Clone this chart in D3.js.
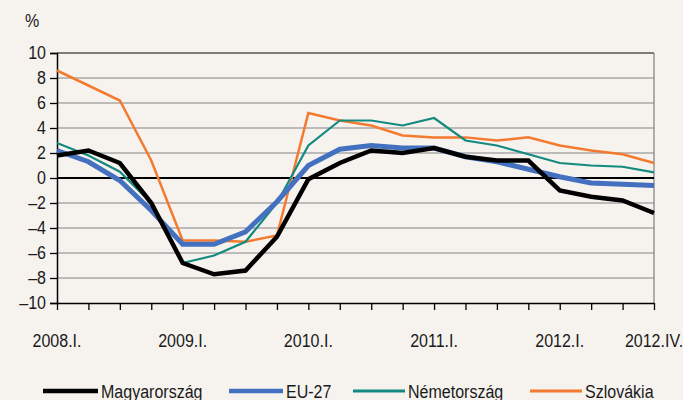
<!DOCTYPE html>
<html>
<head>
<meta charset="utf-8">
<script src="https://cdn.jsdelivr.net/npm/d3@7"></script>
<style>
  body { margin: 0; background: #f6f3ef; }
  svg text { font-family: "Liberation Sans", Arial, sans-serif; fill: #1a1a1a; }
</style>
</head>
<body>
<script>
var WIDTH = 683;
var HEIGHT = 400;
var NARROW = 0.89;   // squeeze text to look like a condensed face

var quarters = ["2008.I", "2008.II", "2008.III", "2008.IV",
                "2009.I", "2009.II", "2009.III", "2009.IV",
                "2010.I", "2010.II", "2010.III", "2010.IV",
                "2011.I", "2011.II", "2011.III", "2011.IV",
                "2012.I", "2012.II", "2012.III", "2012.IV"];
var tickQuarters = ["2008.I", "2009.I", "2010.I", "2011.I", "2012.I", "2012.IV"];
var tickLabels = ["2008.I.", "2009.I.", "2010.I.", "2011.I.", "2012.I.", "2012.IV."];
var yTicks = [-10, -8, -6, -4, -2, 0, 2, 4, 6, 8, 10];

var hungary  = [1.8, 2.2, 1.2, -2.0, -6.8, -7.7, -7.4, -4.7, -0.1, 1.2, 2.2, 2.0, 2.4, 1.7, 1.4, 1.4, -1.0, -1.5, -1.8, -2.8];
var eu27     = [2.2, 1.3, -0.2, -2.6, -5.3, -5.3, -4.3, -1.9, 1.0, 2.3, 2.6, 2.4, 2.4, 1.7, 1.3, 0.7, 0.1, -0.4, -0.5, -0.6];
var germany  = [2.8, 1.8, 0.5, -2.0, -6.8, -6.2, -5.1, -2.0, 2.6, 4.6, 4.6, 4.2, 4.8, 3.0, 2.6, 1.9, 1.2, 1.0, 0.9, 0.45];
var slovakia = [8.6, 7.4, 6.2, 1.4, -5.0, -5.0, -5.1, -4.6, 5.2, 4.6, 4.2, 3.4, 3.25, 3.25, 3.0, 3.25, 2.6, 2.2, 1.9, 1.2];

var seriesNames = ["Magyarország", "EU-27", "Németország", "Szlovákia"];

var series = [
  { name: seriesNames[0], values: hungary,  color: "#000000", width: 4.5 },
  { name: seriesNames[1], values: eu27,     color: "#4470c0", width: 5 },
  { name: seriesNames[2], values: germany,  color: "#138a80", width: 2.2 },
  { name: seriesNames[3], values: slovakia, color: "#f47a30", width: 2.5 }
];

function squeeze(sel) {
    sel.each(function() {
        var w = this.getComputedTextLength();
        d3.select(this)
            .attr("textLength", w * NARROW)
            .attr("lengthAdjust", "spacingAndGlyphs");
    });
}

var svg = d3.select("body").append("svg")
    .attr("width", WIDTH)
    .attr("height", HEIGHT);

svg.append("rect")
    .attr("width", WIDTH)
    .attr("height", HEIGHT)
    .attr("fill", "#f6f3ef");

var x = d3.scalePoint().domain(quarters).range([57, 654]);
var y = d3.scaleLinear().domain([-10, 10]).range([303, 53]);

// horizontal grid lines
svg.append("g").selectAll("line")
    .data(yTicks.filter(d => d !== 0 && d !== -10))
    .join("line")
    .attr("x1", 57).attr("x2", 654)
    .attr("y1", d => y(d)).attr("y2", d => y(d))
    .attr("stroke", d => d === 10 ? "#555" : "#a8a8a8")
    .attr("stroke-width", 1.3);

// right border
svg.append("line")
    .attr("x1", 654).attr("x2", 654)
    .attr("y1", 53).attr("y2", 303)
    .attr("stroke", "#888").attr("stroke-width", 1.3);

// y axis
var yAxis = svg.append("g")
    .attr("transform", "translate(57,0)")
    .call(d3.axisLeft(y).tickValues(yTicks).tickSize(7).tickPadding(4)
        .tickFormat(d => d < 0 ? "\u2013" + Math.abs(d) : d));
yAxis.select(".domain").attr("stroke", "#000").attr("stroke-width", 1.5);
yAxis.selectAll(".tick line").attr("stroke", "#000").attr("stroke-width", 1.3);
yAxis.selectAll(".tick text").attr("font-size", 18).attr("fill", "#1a1a1a")
    .attr("font-family", "'Liberation Sans', Arial, sans-serif")
    .call(squeeze);

// x axis
var xAxis = svg.append("g")
    .attr("transform", "translate(0," + y(-10) + ")")
    .call(d3.axisBottom(x).tickSize(7).tickSizeOuter(0).tickFormat(""));
xAxis.select(".domain").attr("stroke", "#000").attr("stroke-width", 1.5);
xAxis.selectAll(".tick line").attr("stroke", "#000").attr("stroke-width", 1.3);

svg.append("g").selectAll("text")
    .data(tickQuarters)
    .join("text")
    .attr("x", d => x(d))
    .attr("y", 347)
    .attr("text-anchor", "middle")
    .attr("font-size", 18)
    .text((d, i) => tickLabels[i])
    .call(squeeze);

// zero line
svg.append("line")
    .attr("x1", 57).attr("x2", 654)
    .attr("y1", y(0)).attr("y2", y(0))
    .attr("stroke", "#000").attr("stroke-width", 2);

svg.append("text")
    .attr("x", 25).attr("y", 27)
    .attr("font-size", 18)
    .text("%")
    .call(squeeze);

var line = d3.line()
    .x((d, i) => x(quarters[i]))
    .y(d => y(d));

svg.append("g").selectAll("path")
    .data(series.slice().reverse())
    .join("path")
    .attr("d", d => line(d.values))
    .attr("fill", "none")
    .attr("stroke", d => d.color)
    .attr("stroke-width", d => d.width)
    .attr("stroke-linejoin", "miter");

// legend
var legendX = [43, 229, 353, 530];
var legendLen = [55, 54, 52, 52];
var legend = svg.append("g").selectAll("g")
    .data(series)
    .join("g")
    .attr("transform", (d, i) => "translate(" + legendX[i] + ",391)");
legend.append("line")
    .attr("x1", 0).attr("x2", (d, i) => legendLen[i])
    .attr("y1", 0).attr("y2", 0)
    .attr("stroke", d => d.color)
    .attr("stroke-width", (d, i) => i < 2 ? 4.5 : 3);
legend.append("text")
    .attr("x", (d, i) => legendLen[i] + 3)
    .attr("y", 7)
    .attr("font-size", 18)
    .text(d => d.name)
    .call(squeeze);
</script>
</body>
</html>
